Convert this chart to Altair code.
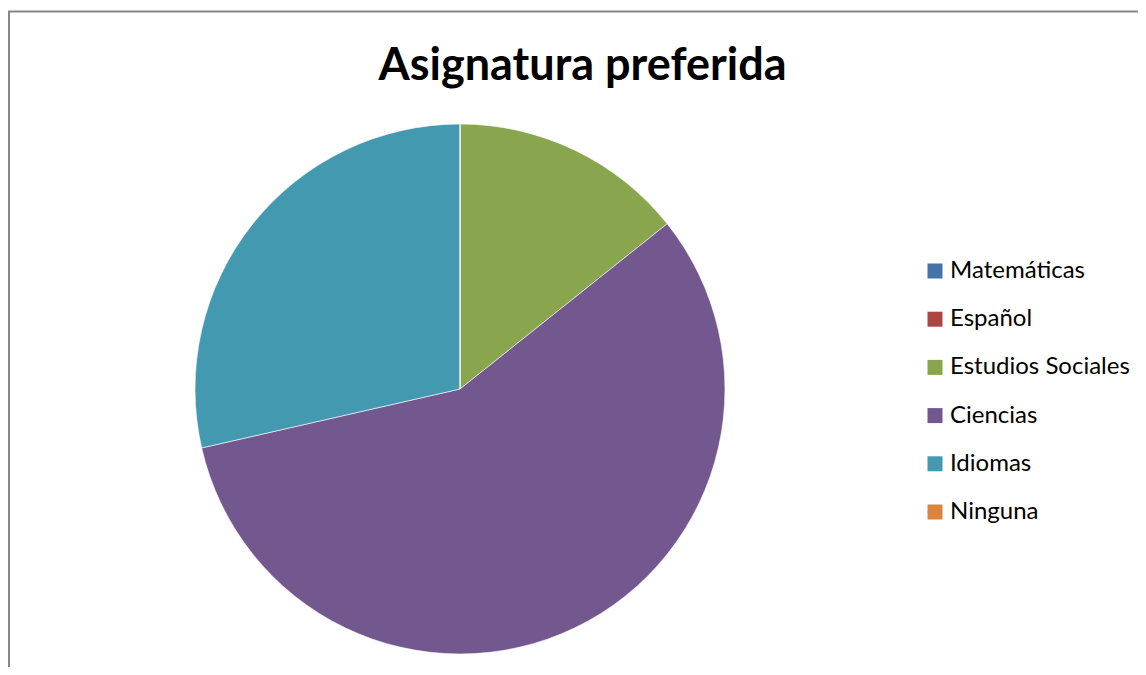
import altair as alt
import pandas as pd

categorias = ["Matemáticas", "Español", "Estudios Sociales", "Ciencias", "Idiomas", "Ninguna"]
valores = [0, 0, 1, 4, 2, 0]
colores = ["#4572A7", "#AA4643", "#89A54E", "#72588F", "#4399B0", "#DB843D"]
orden = list(range(len(categorias)))

df = pd.DataFrame({"Asignatura": categorias, "Cantidad": valores, "orden": orden})
marco = pd.DataFrame({"borde": [0]})

ANCHO = 1130
ALTO = 569
PAD_TOP = 90
BORDE_Y = -86.5

pastel = (
    alt.Chart(df)
    .mark_arc(radius=265, stroke="white", strokeWidth=0.6)
    .encode(
        theta=alt.Theta("Cantidad:Q", stack=True),
        color=alt.Color(
            "Asignatura:N",
            scale=alt.Scale(domain=categorias, range=colores),
            sort=categorias,
            legend=alt.Legend(
                title=None,
                orient="none",
                legendX=915,
                legendY=161,
                padding=0,
                symbolType="square",
                symbolSize=225,
                symbolStrokeWidth=0,
                labelFontSize=24,
                labelFont="Lato",
                labelColor="#000000",
                labelOffset=3,
                labelLimit=400,
                rowPadding=24.2,
            ),
        ),
        order=alt.Order("orden:Q"),
        x=alt.value(452),
        y=alt.value(291),
        tooltip=["Asignatura:N", "Cantidad:Q"],
    )
)

borde_izq = alt.Chart(marco).mark_rule(color="#878787", strokeWidth=2).encode(
    x=alt.value(1), y=alt.value(BORDE_Y), y2=alt.value(ALTO + 5)
)
borde_sup = alt.Chart(marco).mark_rule(color="#878787", strokeWidth=2).encode(
    x=alt.value(0), x2=alt.value(ANCHO + 5), y=alt.value(BORDE_Y)
)

chart = (
    alt.layer(pastel, borde_izq, borde_sup)
    .properties(
        width=ANCHO,
        height=ALTO,
        autosize="none",
        padding={"left": 0, "top": PAD_TOP, "right": 0, "bottom": 0},
        title=alt.TitleParams(
            "Asignatura preferida",
            font="Lato",
            fontSize=45,
            fontWeight="bold",
            color="#000000",
            anchor="middle",
            frame="group",
            baseline="alphabetic",
            offset=-69.5,
            dy=45,
            dx=9.5,
        ),
    )
    .configure_view(stroke=None)
)

chart.save("out.html", embed_options={"renderer": "svg", "actions": False})
